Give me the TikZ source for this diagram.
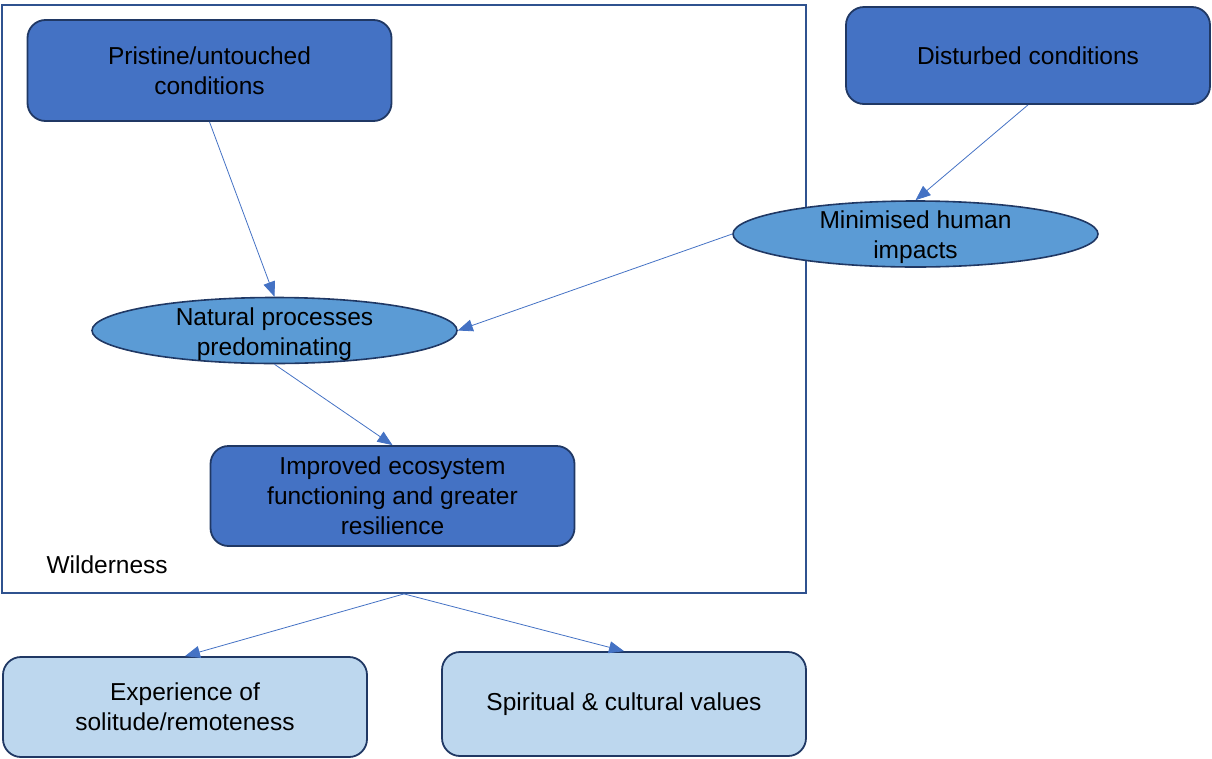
\documentclass[tikz,border=0pt]{standalone}
\usepackage{fontspec}
\setmainfont{Liberation Sans}
\usetikzlibrary{arrows.meta,shapes.geometric}
\definecolor{darkfill}{HTML}{4472C4}
\definecolor{midfill}{HTML}{5B9BD5}
\definecolor{lightfill}{HTML}{BDD7EE}
\definecolor{edgeline}{HTML}{203864}
\definecolor{framecol}{HTML}{2F528F}
\definecolor{arrowcol}{HTML}{4472C4}
\begin{document}
\begin{tikzpicture}[x=1pt,y=-1pt,
  lbl/.style={font=\fontsize{24.5}{30}\selectfont, align=center, text=black},
  boxbase/.style={lbl, draw=edgeline, line width=1.8pt, rounded corners=18pt,
    inner sep=0pt, minimum width=364pt},
  darkbox/.style={boxbase, fill=darkfill},
  lightbox/.style={boxbase, fill=lightfill},
  oval/.style={ellipse, draw=edgeline, line width=1.6pt, fill=midfill,
    inner sep=0pt, minimum width=365pt, minimum height=66pt},
  link/.style={draw=arrowcol, line width=0.8pt,
    -{Triangle[length=15pt,width=12pt]}}]
\useasboundingbox (0,0) rectangle (1212,758);
% outer frame
\node[draw=framecol, line width=1.8pt, inner sep=0pt, minimum width=804pt,
  minimum height=588pt] (wild) at (404,299) {};
\node[lbl, anchor=west] (wlabel) at (43,565) {Wilderness};
% boxes
\node[darkbox, minimum height=101pt] (pristine) at (209.5,70.5) {Pristine/untouched\\conditions};
\node[darkbox, minimum height=97pt] (disturbed) at (1028,55.5) {Disturbed conditions};
% ellipses, with their text set on top
\node[oval] (minimised) at (915.5,234) {};
\node[lbl] (minimisedtext) at ([yshift=-3pt]minimised.center) {Minimised human\\impacts};
\node[oval] (natural) at (274.5,330.5) {};
\node[lbl] (naturaltext) at ([yshift=-4pt]natural.center) {Natural processes\\predominating};
\node[darkbox, minimum height=100pt] (improved) at (392.5,496) {Improved ecosystem\\functioning and greater\\resilience};
\node[lightbox, minimum height=100pt] (experience) at (185,707) {Experience of\\solitude/remoteness};
\node[lightbox, minimum height=104pt] (spiritual) at (624,704) {Spiritual \& cultural values};
% connectors
\draw[link] (pristine.south) -- (natural.north);
\draw[link] (disturbed.south) -- (minimised.north);
\draw[link] (minimised.west) -- (natural.east);
\draw[link] (natural.south) -- (improved.north);
\draw[link] (wild.south) -- (experience.north);
\draw[link] (wild.south) -- (spiritual.north);
\end{tikzpicture}
\end{document}
